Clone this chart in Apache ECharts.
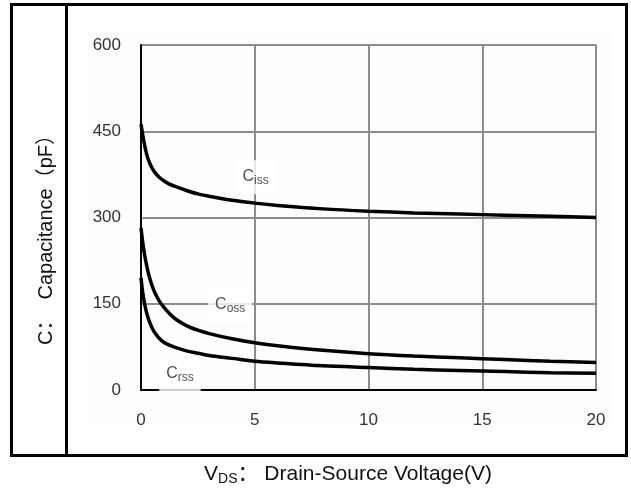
<!DOCTYPE html>
<html>
<head>
<meta charset="utf-8">
<script src="https://cdn.jsdelivr.net/npm/echarts@6/dist/echarts.min.js"></script>
<style>
  html, body { margin: 0; padding: 0; background: #fff; }
  #chart { width: 631px; height: 491px; }
</style>
</head>
<body>
<div id="chart"></div>
<script>
// Drain-source voltage (V) sample points
const vds = [0, 0.1, 0.2, 0.3, 0.4, 0.5, 0.6, 0.8, 1, 1.25, 1.5, 2, 2.5, 3, 4, 5, 6, 8, 10, 12, 14, 16, 18, 20];
// Capacitances (pF)
const ciss = [462, 438, 418, 403, 393, 385, 379, 370, 364, 358, 354, 347, 341, 337, 330, 325, 321, 315, 311, 308, 306, 304, 302, 300];
const coss = [282, 250, 226, 207, 192, 180, 170, 155, 144, 133, 124, 112, 104, 98, 89, 82, 77, 69, 63, 59, 56, 53, 50, 48];
const crss = [195, 163, 142, 127, 116, 107, 100, 90, 83, 78, 74, 68, 64, 60, 55, 50, 47, 42, 39, 36, 34, 32, 30, 29];

const xTicks = [0, 5, 10, 15, 20];
const yTicks = [0, 150, 300, 450, 600];

// Curve name labels: [vds, C, main letter, subscript]
const curveLabels = [
  [4.15, 370, 'C', 'iss'],
  [2.95, 146, 'C', 'oss'],
  [0.8, 26, 'C', 'rss']
];

const FONT = '"Liberation Sans", Arial, "Noto Sans CJK SC", sans-serif';

const pair = (xs, ys) => xs.map((x, i) => [x, ys[i]]);

const chart = echarts.init(document.getElementById('chart'), null, { renderer: 'canvas' });

const curveStyle = { color: '#000', width: 3.5 };
const curve = (name, ys) => ({
  name, type: 'line', data: pair(vds, ys), smooth: 0.3,
  symbol: 'none', lineStyle: curveStyle, z: 3
});

chart.setOption({
  animation: false,
  backgroundColor: '#fff',
  grid: { left: 141, right: 35, top: 45, bottom: 101 },
  xAxis: {
    type: 'value', min: xTicks[0], max: xTicks[xTicks.length - 1], interval: 5,
    axisLine: { show: true, onZero: false, lineStyle: { color: '#000', width: 2 } },
    axisTick: { show: false },
    axisLabel: { margin: 22, fontSize: 17, color: '#333', fontFamily: FONT },
    splitLine: { show: true, lineStyle: { color: '#8c8c8c', width: 2 } }
  },
  yAxis: {
    type: 'value', min: yTicks[0], max: yTicks[yTicks.length - 1], interval: 150,
    axisLine: { show: true, lineStyle: { color: '#000', width: 2 } },
    axisTick: { show: false },
    axisLabel: { margin: 20, fontSize: 17, color: '#333', fontFamily: FONT },
    splitLine: { show: true, lineStyle: { color: '#8c8c8c', width: 2 } }
  },
  series: [
    curve('Ciss', ciss),
    curve('Coss', coss),
    curve('Crss', crss),
    {
      type: 'scatter', symbolSize: 0, z: 2, silent: true,
      data: curveLabels.map(l => ({ value: [l[0], l[1]], main: l[2], sub: l[3] })),
      label: {
        show: true, position: 'right', distance: 0,
        backgroundColor: '#fff', padding: [8, 7, 8, 7],
        formatter: p => '{c|' + p.data.main + '}{s|' + p.data.sub + '}',
        rich: {
          c: { fontSize: 16, lineHeight: 18, verticalAlign: 'top', color: '#222', fontFamily: FONT },
          s: { fontSize: 12, lineHeight: 12, padding: [10, 0, 0, 0], verticalAlign: 'bottom', color: '#222', fontFamily: FONT }
        }
      }
    }
  ],
  graphic: [
    { type: 'rect', z: -1, shape: { x: 87, y: 30, width: 525, height: 395 }, style: { fill: '#fdfdfd' } },
    { type: 'rect', shape: { x: 11.5, y: 4.5, width: 615, height: 451 }, style: { fill: 'none', stroke: '#000', lineWidth: 3 } },
    { type: 'line', shape: { x1: 66.5, y1: 4.5, x2: 66.5, y2: 455.5 }, style: { stroke: '#000', lineWidth: 3 } },
    {
      type: 'text', x: 46, y: 235, rotation: Math.PI / 2,
      style: {
        text: 'C：  Capacitance（pF）', fontSize: 20, fontFamily: FONT, fill: '#111',
        align: 'center', verticalAlign: 'middle'
      }
    },
    {
      type: 'text', x: 348, y: 475,
      style: {
        text: '{v|V}{d|DS}{t|： Drain-Source Voltage(V)}',
        align: 'center', verticalAlign: 'middle',
        rich: {
          v: { fontSize: 21, lineHeight: 22, verticalAlign: 'top', fill: '#111', fontFamily: FONT },
          d: { fontSize: 14, lineHeight: 14, padding: [9, 0, 0, 0], verticalAlign: 'bottom', fill: '#111', fontFamily: FONT },
          t: { fontSize: 21, lineHeight: 22, verticalAlign: 'top', fill: '#111', fontFamily: FONT }
        }
      }
    }
  ]
});
</script>
</body>
</html>
